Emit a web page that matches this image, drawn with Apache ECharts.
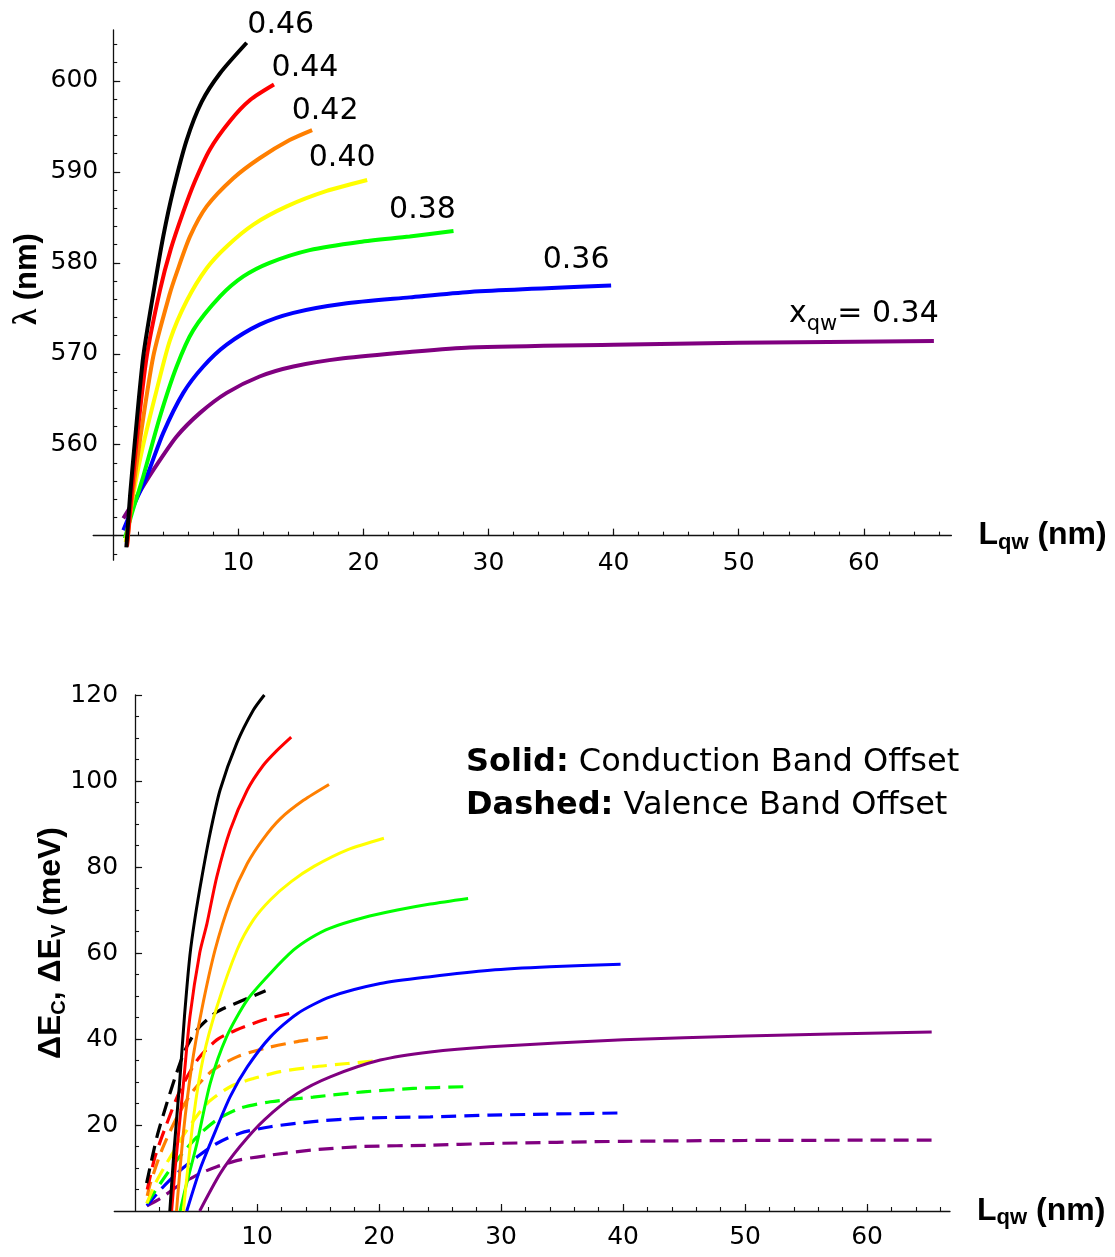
<!DOCTYPE html>
<html><head><meta charset="utf-8">
<script src="https://cdn.jsdelivr.net/npm/echarts@6/dist/echarts.min.js"></script>
<style>html,body{margin:0;padding:0;background:#fff}#c{width:1115px;height:1257px}</style>
</head><body><div id="c"></div>
<script>
// ---------- tick labels ----------
const L_TICKS = [10, 20, 30, 40, 50, 60];
const LAMBDA_TICKS = [560, 570, 580, 590, 600];
const E_TICKS = [20, 40, 60, 80, 100, 120];
const X_QW = ['0.46', '0.44', '0.42', '0.40', '0.38', '0.36', '0.34'];
const COLORS = ['#000000', '#ff0000', '#ff7f00', '#ffff00', '#00ff00', '#0000ff', '#800080'];

// ---------- top panel: emission wavelength lambda (nm) vs L_qw (nm) ----------
const lam046 = [[1.05,548.7],[1.34,554.3],[1.74,560.5],[2.4,569.7],[3.25,577.0],[4.0,582.9],[4.8,588.0],[5.87,593.5],[7.07,597.7],[8.54,600.85],[10.67,604.2]];
const lam044 = [[1.1,548.8],[1.4,553.5],[1.88,560.5],[2.68,569.7],[3.74,577.0],[4.6,581.5],[5.6,585.6],[6.54,589.0],[7.74,592.5],[9.34,595.6],[10.94,597.9],[12.85,599.6]];
const lam042 = [[1.1,548.9],[1.5,554.0],[2.14,560.5],[3.2,569.7],[4.5,576.5],[5.07,578.9],[6.14,582.9],[7.47,586.2],[9.6,589.3],[11.7,591.5],[14.1,593.5],[15.9,594.6]];
const lam040 = [[1.0,549.3],[1.6,554.5],[2.4,560.0],[3.47,566.0],[4.54,571.5],[5.87,575.8],[7.47,579.4],[9.07,581.8],[11.2,584.2],[13.87,586.2],[17.07,587.9],[20.3,589.1]];
const lam038 = [[0.94,549.7],[1.5,552.5],[2.4,556.5],[3.74,563.1],[5.07,568.6],[6.4,572.6],[8.54,576.3],[10.4,578.5],[12.5,580.0],[15.7,581.4],[19.7,582.3],[23.7,582.9],[27.2,583.5]];
const lam036 = [[0.81,550.6],[1.6,553.2],[2.68,556.5],[4.0,561.3],[5.6,565.7],[7.2,568.6],[9.07,571.0],[11.7,573.2],[14.4,574.5],[18.4,575.5],[23.7,576.2],[28.5,576.8],[39.8,577.5]];
const lam034 = [[0.81,551.9],[1.88,554.3],[3.2,557.2],[5.07,560.9],[6.94,563.5],[9.07,565.7],[11.7,567.5],[14.4,568.6],[18.4,569.5],[23.7,570.2],[28.5,570.7],[40,571.0],[50,571.2],[65.6,571.4]];

// ---------- bottom panel: conduction band offset (solid), meV ----------
const dEc046 = [[2.85,0],[3.2,14.2],[3.65,29.7],[4.05,45.2],[4.5,59.5],[4.93,68.4],[5.48,77.7],[6.15,87.8],[6.97,97.9],[8.34,108.8],[9.7,116.5],[10.6,120]];
const dEc044 = [[3.0,0],[3.3,10.3],[3.97,29.7],[4.5,45.2],[5.3,60.0],[5.9,66.9],[6.7,77.7],[7.8,88.6],[9.2,97.9],[10.5,103.6],[11.6,107.0],[12.8,110.2]];
const dEc042 = [[3.4,0],[3.96,18.1],[4.64,33.6],[5.46,46.7],[6.56,60.7],[7.8,72.0],[9.2,80.8],[10.5,86.5],[11.9,91.2],[13.8,95.5],[15.9,99.2]];
const dEc040 = [[3.96,0],[4.8,21.9],[5.6,35.8],[6.7,47.4],[8.36,60.7],[9.7,67.7],[11.1,72.4],[12.8,76.6],[14.7,80.2],[17.4,84.0],[20.4,86.7]];
const dEc038 = [[3.7,0],[4.1,4.9],[5.07,15.7],[6.16,29.7],[7.5,40.5],[9.2,49.1],[11.1,55.3],[13.0,60.7],[14.4,63.5],[16.0,65.8],[18.7,68.2],[21.5,70.0],[24.2,71.4],[27.3,72.7]];
const dEc036 = [[4.24,0],[5.3,9.5],[6.4,17.3],[7.8,26.6],[9.2,33.5],[11.1,40.5],[13.3,45.9],[16.0,49.8],[20.1,52.9],[24.2,54.5],[29.1,56.0],[34,56.8],[39.8,57.4]];
const dEc034 = [[5.3,0],[7.0,8.8],[8.6,15.0],[10.6,21.2],[13.3,27.3],[16.0,31.2],[20.1,35.1],[24.2,37.0],[29.1,38.2],[40,39.8],[50,40.7],[65.3,41.6]];

// ---------- bottom panel: valence band offset (dashed), meV ----------
const dEv046 = [[0.95,6.5],[1.8,17.3],[2.6,25.0],[3.3,31.2],[4.1,37.4],[5.07,42.1],[6.7,46.3],[8.6,48.7],[10.7,51.2]];
const dEv044 = [[1.0,5.0],[1.64,12.6],[2.6,20.3],[3.7,28.1],[5.1,35.1],[6.7,39.8],[8.3,42.1],[10.5,44.4],[12.9,46.1]];
const dEv042 = [[1.0,3.5],[1.25,6.4],[2.2,14.2],[3.45,21.9],[4.8,28.1],[6.4,32.8],[8.4,35.9],[10.6,37.8],[13.3,39.4],[15.8,40.4]];
const dEv040 = [[0.97,1.8],[1.66,6.4],[2.9,12.6],[4.25,18.8],[5.9,25.0],[7.8,28.9],[9.7,30.8],[11.9,32.4],[14.6,33.5],[17.4,34.3],[20.1,35.0]];
const dEv038 = [[0.97,1.8],[2.07,6.4],[3.45,11.9],[5.1,17.3],[6.7,21.2],[8.6,23.9],[11.1,25.4],[14.6,26.5],[18.7,27.7],[22.8,28.5],[27.0,28.9]];
const dEv036 = [[0.97,1.2],[2.07,4.9],[3.45,8.8],[5.1,12.6],[6.7,15.7],[8.6,18.1],[11.1,19.6],[14.6,20.8],[18.7,21.6],[24.2,21.9],[29.1,22.3],[39.8,22.8]];
const dEv034 = [[0.97,1.2],[2.07,2.9],[3.45,5.7],[5.1,8.4],[6.7,10.3],[8.6,11.9],[11.1,13.0],[14.6,14.2],[18.7,15.0],[24.2,15.3],[29.1,15.7],[40,16.2],[50,16.4],[65.4,16.5]];

const LAM = [lam046, lam044, lam042, lam040, lam038, lam036, lam034];
const DEC = [dEc046, dEc044, dEc042, dEc040, dEc038, dEc036, dEc034];
const DEV = [dEv046, dEv044, dEv042, dEv040, dEv038, dEv036, dEv034];

// ---------- layout ----------
const TOP = {left: 93.2, top: 30, width: 858.2, height: 530.2, xMin: -1.6, xMax: 67, yMin: 547.3, yMax: 605.6, xCross: 550};
const BOT = {left: 114.3, top: 695, width: 835.7, height: 516, xMin: -1.7, xMax: 66.8, yMin: 0, yMax: 120};

const range = (a, b, s) => { const r = []; for (let v = a; v <= b + 1e-9; v += s) r.push(+v.toFixed(4)); return r; };
const MINOR_L = range(2, 66, 2);
const MINOR_LAM = range(548, 604, 2);
const MINOR_E = range(5, 115, 5);

const TICK_FONT = 'DejaVu Sans';
const NAME_FONT = 'Liberation Sans';
const AX = '#111';

const topXOffset = -((TOP.xCross - TOP.yMin) / (TOP.yMax - TOP.yMin)) * TOP.height;
const topYOffset = -((0 - TOP.xMin) / (TOP.xMax - TOP.xMin)) * TOP.width;
const botYOffset = -((0 - BOT.xMin) / (BOT.xMax - BOT.xMin)) * BOT.width;

const lqwName = {
  name: '{L|L}{s|qw}{n| (nm)}',
  nameLocation: 'end',
  nameGap: 27,
  nameMoveOverlap: false,
  nameTextStyle: {
    rich: {
      L: {fontFamily: NAME_FONT, fontWeight: 'bold', fontSize: 32, color: '#000'},
      s: {fontFamily: NAME_FONT, fontWeight: 'bold', fontSize: 22, color: '#000', padding: [14, 0, 0, 0]},
      n: {fontFamily: NAME_FONT, fontWeight: 'bold', fontSize: 32, color: '#000'}
    }
  }
};

function majorAxis(extra, ticks, min, max, gridIndex, margin) {
  return Object.assign({
    type: 'value', gridIndex, min, max,
    axisLine: {show: true, onZero: false, lineStyle: {color: AX, width: 1.3}},
    axisTick: {show: true, inside: true, length: 7, customValues: ticks, lineStyle: {color: AX, width: 1.2}},
    minorTick: {show: false},
    axisLabel: {show: true, customValues: ticks, margin, fontSize: 25, fontFamily: TICK_FONT, color: '#000'},
    splitLine: {show: false},
    axisPointer: {show: false}
  }, extra);
}
function minorAxis(extra, ticks, min, max, gridIndex) {
  return Object.assign({
    type: 'value', gridIndex, min, max,
    axisLine: {show: false, onZero: false},
    axisTick: {show: true, inside: true, length: 4, customValues: ticks, lineStyle: {color: AX, width: 1.1}},
    axisLabel: {show: false},
    splitLine: {show: false},
    axisPointer: {show: false}
  }, extra);
}

const xAxis = [
  majorAxis(Object.assign({position: 'bottom', offset: topXOffset}, lqwName), L_TICKS, TOP.xMin, TOP.xMax, 0, 15),
  minorAxis({position: 'bottom', offset: topXOffset}, MINOR_L, TOP.xMin, TOP.xMax, 0),
  majorAxis(Object.assign({position: 'bottom', offset: 0}, lqwName), L_TICKS, BOT.xMin, BOT.xMax, 1, 14),
  minorAxis({position: 'bottom', offset: 0}, MINOR_L, BOT.xMin, BOT.xMax, 1)
];
const yAxis = [
  majorAxis({
    position: 'left', offset: topYOffset,
    name: '{l|λ}{n| (nm)}', nameLocation: 'middle', nameRotate: 90, nameGap: 69, nameMoveOverlap: false,
    nameTextStyle: {padding: [0, 0, 0, 32], rich: {
      l: {fontFamily: 'Liberation Serif', fontWeight: 'bold', fontSize: 33, color: '#000'},
      n: {fontFamily: NAME_FONT, fontWeight: 'bold', fontSize: 31, color: '#000'}
    }}
  }, LAMBDA_TICKS, TOP.yMin, TOP.yMax, 0, 15),
  minorAxis({position: 'left', offset: topYOffset}, MINOR_LAM, TOP.yMin, TOP.yMax, 0),
  majorAxis({
    position: 'left', offset: botYOffset,
    name: '{a|ΔE}{s|C}{a|, ΔE}{s|V}{a| (meV)}', nameLocation: 'middle', nameRotate: 90, nameGap: 66, nameMoveOverlap: false,
    nameTextStyle: {padding: [0, 0, 0, 20], rich: {
      a: {fontFamily: NAME_FONT, fontWeight: 'bold', fontSize: 32, color: '#000'},
      s: {fontFamily: NAME_FONT, fontWeight: 'bold', fontSize: 20, color: '#000', padding: [16, 0, 0, 0]}
    }}
  }, E_TICKS, BOT.yMin, BOT.yMax, 1, 17),
  minorAxis({position: 'left', offset: botYOffset}, MINOR_E, BOT.yMin, BOT.yMax, 1)
];

function line(data, color, xi, yi, width, dashed) {
  return {
    type: 'line', data, xAxisIndex: xi, yAxisIndex: yi,
    symbol: 'none', showSymbol: false, smooth: 0.25,
    lineStyle: {color, width, type: dashed ? [15, 8] : 'solid', cap: 'butt'},
    silent: true, animation: false
  };
}

// label offsets (px) of the x_qw annotations from the end of each top curve
const LABEL_OFFSETS = [[34, -18], [31, -16], [13, -19], [-25, -22], [-31, -21], [-35, -25], [-70, -27]];

const series = [];
for (let i = 6; i >= 0; i--) series.push(line(LAM[i], COLORS[i], 0, 0, 4, false));
for (let i = 6; i >= 0; i--) series.push(line(DEV[i], COLORS[i], 2, 2, 3.2, true));
for (let i = 6; i >= 0; i--) series.push(line(DEC[i], COLORS[i], 2, 2, 3, false));
for (let i = 0; i < 7; i++) {
  const last = LAM[i][LAM[i].length - 1];
  series.push({
    type: 'scatter', xAxisIndex: 0, yAxisIndex: 0, data: [last],
    symbol: 'circle', symbolSize: 1, itemStyle: {color: 'rgba(255,255,255,0)'},
    silent: true, animation: false, z: 5,
    label: {
      show: true, position: 'inside', offset: LABEL_OFFSETS[i],
      formatter: i === 6 ? '{x|x}{s|qw}{n|= ' + X_QW[i] + '}' : X_QW[i],
      fontFamily: TICK_FONT, fontSize: 30, color: '#000', opacity: 1,
      textBorderWidth: 0, textShadowBlur: 0,
      rich: {
        x: {fontFamily: TICK_FONT, fontSize: 30, color: '#000', textBorderWidth: 0},
        s: {fontFamily: TICK_FONT, fontSize: 21, color: '#000', textBorderWidth: 0, padding: [22, 0, 0, 0]},
        n: {fontFamily: TICK_FONT, fontSize: 30, color: '#000', textBorderWidth: 0}
      }
    }
  });
}

const chart = echarts.init(document.getElementById('c'), null, {renderer: 'canvas'});
chart.setOption({
  backgroundColor: '#ffffff',
  animation: false,
  grid: [
    {left: TOP.left, top: TOP.top, width: TOP.width, height: TOP.height, containLabel: false, outerBoundsMode: 'none'},
    {left: BOT.left, top: BOT.top, width: BOT.width, height: BOT.height, containLabel: false, outerBoundsMode: 'none'}
  ],
  xAxis, yAxis, series,
  graphic: [
    {type: 'text', left: 466, top: 747, silent: true, style: {
      text: '{b|Solid:} Conduction Band Offset', fontFamily: TICK_FONT, fontSize: 32, fill: '#000',
      rich: {b: {fontFamily: TICK_FONT, fontWeight: 'bold', fontSize: 32, fill: '#000'}}
    }},
    {type: 'text', left: 466, top: 790, silent: true, style: {
      text: '{b|Dashed:} Valence Band Offset', fontFamily: TICK_FONT, fontSize: 32, fill: '#000',
      rich: {b: {fontFamily: TICK_FONT, fontWeight: 'bold', fontSize: 32, fill: '#000'}}
    }}
  ]
});
</script></body></html>
